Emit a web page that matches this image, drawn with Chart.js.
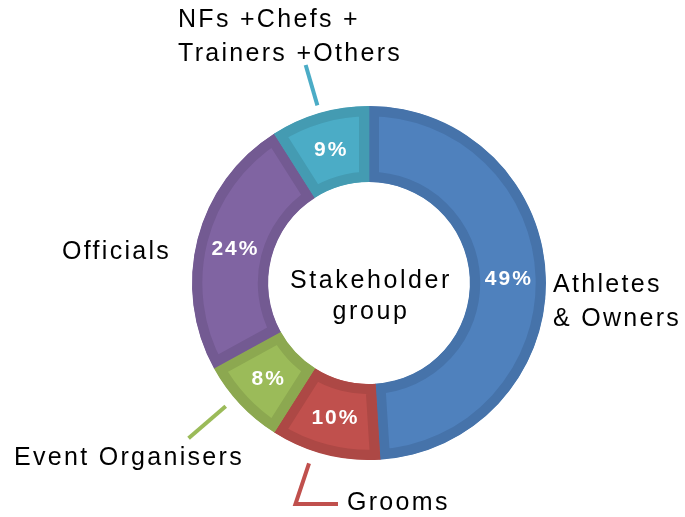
<!DOCTYPE html>
<html>
<head>
<meta charset="utf-8">
<script src="https://cdn.jsdelivr.net/npm/chart.js@4.4.1/dist/chart.umd.min.js"></script>
<style>
  html, body { margin: 0; padding: 0; background: #fff; }
  #wrap { width: 685px; height: 517px; }
</style>
</head>
<body>
<div id="wrap"><canvas id="donut" width="685" height="517"></canvas></div>
<script>
// --- data ---
const categories = ['Athletes & Owners', 'Grooms', 'Event Organisers', 'Officials', 'NFs +Chefs +Trainers +Others'];
const shares = [49, 10, 8, 24, 9];
const pctLabels = ['49%', '10%', '8%', '24%', '9%'];
const centerTitle = ['Stakeholder', 'group'];

const fillColors = ['#4f81bd', '#c0504d', '#9bbb59', '#8064a2', '#4bacc6'];
const edgeColors = ['#4673aa', '#ad4845', '#8ca850', '#735a92', '#449bb2'];

// outside labels: text lines, anchor (left x, first baseline), optional leader
const outsideLabels = [
    { lines: ['Athletes', '& Owners'], x: 553, y: 292 },
    { lines: ['Grooms'], x: 347, y: 510, leader: { nudge: 4, r0: 13, r1: 56, tailTo: 338 } },
    { lines: ['Event Organisers'], x: 14, y: 465, leader: { nudge: 2.5, r0: 12, r1: 61 } },
    { lines: ['Officials'], x: 62, y: 259 },
    { lines: ['NFs +Chefs +', 'Trainers +Others'], x: 178, y: 27, leader: { nudge: 0, r0: 8, r1: 50 } }
];

const FONT = '"Liberation Sans", Arial, sans-serif';

const labelPlugin = {
    id: 'labelPlugin',
    afterDatasetsDraw(chart) {
        const ctx = chart.ctx;
        const meta = chart.getDatasetMeta(0);
        ctx.save();

        // percentages inside the ring
        ctx.fillStyle = '#ffffff';
        ctx.font = 'bold 21px ' + FONT;
        ctx.letterSpacing = '2px';
        ctx.textAlign = 'center';
        ctx.textBaseline = 'middle';
        meta.data.forEach((arc, i) => {
            const p = arc.getCenterPoint();
            ctx.fillText(pctLabels[i], p.x + 1, p.y + 1);
        });

        // leader lines
        meta.data.forEach((arc, i) => {
            const lab = outsideLabels[i];
            if (!lab.leader) return;
            const a = (arc.startAngle + arc.endAngle) / 2 + lab.leader.nudge * Math.PI / 180;
            const r0 = arc.outerRadius + lab.leader.r0;
            const r1 = arc.outerRadius + lab.leader.r1;
            ctx.strokeStyle = fillColors[i];
            ctx.lineWidth = 4;
            ctx.lineJoin = 'miter';
            ctx.beginPath();
            ctx.moveTo(arc.x + r0 * Math.cos(a), arc.y + r0 * Math.sin(a));
            const ex = arc.x + r1 * Math.cos(a), ey = arc.y + r1 * Math.sin(a);
            ctx.lineTo(ex, ey);
            if (lab.leader.tailTo) ctx.lineTo(lab.leader.tailTo, ey);
            ctx.stroke();
        });

        // outside texts
        ctx.fillStyle = '#000000';
        ctx.font = '25px ' + FONT;
        ctx.letterSpacing = '2.3px';
        ctx.textAlign = 'left';
        ctx.textBaseline = 'alphabetic';
        outsideLabels.forEach(lab => {
            lab.lines.forEach((t, k) => ctx.fillText(t, lab.x, lab.y + k * 34));
        });

        // centre title
        const c = meta.data[0];
        ctx.textAlign = 'center';
        ctx.letterSpacing = '2.6px';
        ctx.fillText(centerTitle[0], c.x + 2, c.y + 5);
        ctx.fillText(centerTitle[1], c.x + 2, c.y + 36);

        ctx.restore();
    }
};

new Chart(document.getElementById('donut'), {
    type: 'doughnut',
    data: {
        labels: categories,
        datasets: [{
            data: shares,
            backgroundColor: fillColors,
            borderColor: edgeColors,
            borderWidth: 10,
            borderAlign: 'inner',
            borderJoinStyle: 'miter',
            hoverOffset: 0,
            offset: 0
        }]
    },
    options: {
        responsive: false,
        animation: false,
        cutout: '57%',
        rotation: 0,
        layout: { padding: { top: 106, bottom: 57, left: 100, right: 47 } },
        plugins: {
            legend: { display: false },
            tooltip: { enabled: false }
        }
    },
    plugins: [labelPlugin]
});
</script>
</body>
</html>
